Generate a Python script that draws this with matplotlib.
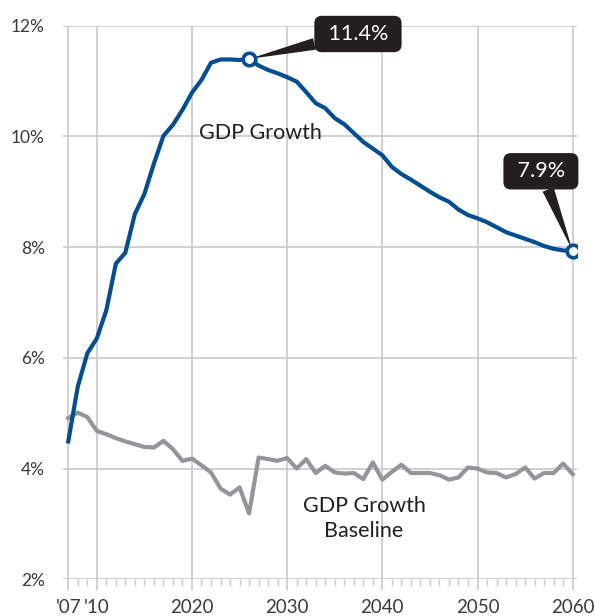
import numpy as np
import matplotlib
matplotlib.use('Agg')
from matplotlib import pyplot as plt

# data (annual, % growth)
years = list(range(2007, 2061))
gdp_growth = [4.49, 5.48, 6.08, 6.35, 6.86, 7.70, 7.90, 8.60, 8.96, 9.51,    # 2007-2016
              10.01, 10.21, 10.48, 10.79, 11.02, 11.33, 11.39, 11.39, 11.38, 11.40,  # 2017-2026
              11.28, 11.20, 11.14, 11.07, 10.99, 10.80, 10.60, 10.51, 10.33, 10.22,  # 2027-2036
              10.06, 9.90, 9.78, 9.66, 9.45, 9.32, 9.22, 9.11, 9.00, 8.90,   # 2037-2046
              8.82, 8.68, 8.58, 8.52, 8.45, 8.36, 8.27, 8.21, 8.15, 8.09,    # 2047-2056
              8.02, 7.97, 7.94, 7.93]                                        # 2057-2060
gdp_baseline = [4.91, 5.01, 4.93, 4.68, 4.62, 4.55, 4.49, 4.44, 4.39, 4.38,  # 2007-2016
                4.50, 4.35, 4.14, 4.18, 4.06, 3.93, 3.64, 3.53, 3.66, 3.19,  # 2017-2026
                4.20, 4.17, 4.14, 4.19, 4.00, 4.17, 3.92, 4.05, 3.93, 3.91,  # 2027-2036
                3.92, 3.81, 4.11, 3.80, 3.94, 4.07, 3.92, 3.92, 3.92, 3.88,  # 2037-2046
                3.80, 3.84, 4.02, 4.00, 3.93, 3.92, 3.84, 3.90, 4.02, 3.82,  # 2047-2056
                3.92, 3.92, 4.09, 3.90]                                      # 2057-2060
x_ticks = [2007, 2010, 2020, 2030, 2040, 2050, 2060]
x_labels = ["'07", "'10", "2020", "2030", "2040", "2050", "2060"]
y_ticks = [2, 4, 6, 8, 10, 12]
y_labels = ['2%', '4%', '6%', '8%', '10%', '12%']

BLUE = '#034e93'
GREY = '#939598'
GRID = '#cdcdcf'
DARK = '#231f20'

plt.rcParams['font.family'] = ['Lato', 'DejaVu Sans']

fig = plt.figure(figsize=(5.95, 6.16), dpi=100)
ax = fig.add_axes([0.1059, 0.0596, 0.8633, 0.8987])

ax.plot(years, gdp_baseline, color=GREY, lw=3.0, zorder=3)
ax.plot(years, gdp_growth, color=BLUE, lw=3.0, zorder=4)

ax.set_xlim(2006.45, 2060.42)
ax.set_ylim(2, 12)
ax.set_xticks(x_ticks)
ax.set_xticklabels(x_labels)
ax.set_xticks(years, minor=True)
ax.set_yticks(y_ticks)
ax.set_yticklabels(y_labels)
ax.grid(True, which='major', color=GRID, lw=1.3, zorder=0)
for s in ax.spines.values():
    s.set_visible(False)
ax.tick_params(axis='x', which='major', length=8, width=1.3, color=GRID,
               pad=6, labelsize=13.5, labelcolor='#3a3a3a')
ax.tick_params(axis='x', which='minor', length=5, width=1, color=GRID)
ax.tick_params(axis='y', length=0, pad=13, labelsize=12.5, labelcolor='#3a3a3a')

# callouts: peak and final value
i_peak = int(np.argmax(gdp_growth))
for xi, xt, yt in [(i_peak, 2037.44, 11.85), (len(years) - 1, 2056.66, 9.37)]:
    ax.annotate(f' {gdp_growth[xi]:.1f}% ', xy=(years[xi], gdp_growth[xi]), xytext=(xt, yt),
                ha='center', va='center', color='white', fontsize=15.5,
                bbox=dict(boxstyle='round,pad=0.38,rounding_size=0.35', fc=DARK, ec='none'),
                arrowprops=dict(arrowstyle='wedge,tail_width=0.55', fc=DARK, ec='none',
                                shrinkA=0, shrinkB=0),
                annotation_clip=False, zorder=6)
    ax.plot(years[xi], gdp_growth[xi], 'o', ms=9, mfc='white', mec=BLUE, mew=2.6, zorder=7)

ax.text(2027.2, 10.06, 'GDP Growth', ha='center', va='center', fontsize=15.5, color=DARK)
ax.text(2038.07, 3.1, 'GDP Growth\nBaseline', ha='center', va='center', fontsize=15.5,
        color=DARK, linespacing=1.32)

fig.savefig('out.png', dpi=100)
